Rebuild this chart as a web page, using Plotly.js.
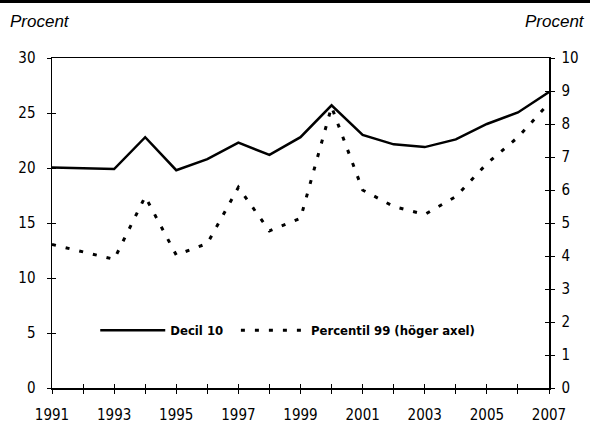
<!DOCTYPE html>
<html><head><meta charset="utf-8">
<script src="https://cdn.plot.ly/plotly-3.0.1.min.js"></script>
<style>html,body{margin:0;padding:0;background:#fff}#chart{width:590px;height:423px}</style>
</head><body><div id="chart"></div>
<script>
var years = [1991,1992,1993,1994,1995,1996,1997,1998,1999,2000,2001,2002,2003,2004,2005,2006,2007];
var decil10 = [20.05,20.0,19.9,22.8,19.8,20.8,22.3,21.2,22.8,25.7,23.0,22.15,21.9,22.6,24.0,25.05,26.9];
var percentil99 = [4.35,4.13,3.9,5.8,4.03,4.38,6.08,4.76,5.14,8.52,6.0,5.5,5.26,5.8,6.8,7.6,8.63];
var nameDecil = 'Decil 10';
var namePerc = 'Percentil 99 (höger axel)';
var axisLabel = 'Procent';

var F = 'DejaVu Sans Condensed, Liberation Sans Narrow, sans-serif';
var traces = [
  {x: years, y: decil10, name: nameDecil, type: 'scatter', mode: 'lines',
   line: {color: '#000', width: 2.5}, xaxis: 'x', yaxis: 'y', legend: 'legend'},
  {x: years, y: percentil99, name: namePerc, type: 'scatter', mode: 'lines',
   line: {color: '#000', width: 3, dash: '4px,10px'}, xaxis: 'x', yaxis: 'y2', legend: 'legend2'},
  {x: [null], y: [null], xaxis: 'x2', yaxis: 'y3', showlegend: false, hoverinfo: 'skip'},
  {x: [null], y: [null], xaxis: 'x2', yaxis: 'y4', showlegend: false, hoverinfo: 'skip'}
];
var axCommon = {showgrid: false, zeroline: false, showline: true, linecolor: '#000', linewidth: 1.5,
  tickcolor: '#000', tickwidth: 1, ticklen: 4, tickfont: {family: F, size: 15, color: '#000'}, fixedrange: true};
var legFont = {family: F, size: 13, color: '#000', weight: 'bold'};
var layout = {
  width: 590, height: 423,
  margin: {l: 52, r: 41, t: 58, b: 35},
  paper_bgcolor: '#fff', plot_bgcolor: '#fff',
  showlegend: true,
  legend: {orientation: 'h', x: 0.087, y: 0.175, xanchor: 'left', yanchor: 'middle', itemwidth: 65,
    font: legFont, bgcolor: 'rgba(0,0,0,0)'},
  legend2: {orientation: 'h', x: 0.370, y: 0.175, xanchor: 'left', yanchor: 'middle', itemwidth: 65,
    font: legFont, bgcolor: 'rgba(0,0,0,0)'},
  xaxis: Object.assign({}, axCommon, {range: [1991, 2007], tick0: 1991, dtick: 2, ticks: 'outside',
    mirror: true, minor: {dtick: 1, tick0: 1991, ticks: 'outside', ticklen: 4, tickcolor: '#000', tickwidth: 1},
    ticklabelstandoff: 8}),
  xaxis2: Object.assign({}, axCommon, {range: [1991, 2007], tick0: 1991, dtick: 1, ticks: 'inside',
    overlaying: 'x', showticklabels: false, anchor: 'y'}),
  yaxis: Object.assign({}, axCommon, {range: [0, 30], dtick: 5, ticks: 'outside', ticklabelstandoff: 8}),
  yaxis2: Object.assign({}, axCommon, {range: [0, 10], dtick: 1, ticks: 'outside', side: 'right',
    overlaying: 'y', anchor: 'x', ticklabelstandoff: 4}),
  yaxis3: Object.assign({}, axCommon, {range: [0, 30], dtick: 5, ticks: 'inside', overlaying: 'y',
    showticklabels: false, anchor: 'x2'}),
  yaxis4: Object.assign({}, axCommon, {range: [0, 10], dtick: 1, ticks: 'inside', side: 'right',
    overlaying: 'y', showticklabels: false, anchor: 'x2'}),
  shapes: [{type: 'rect', xref: 'paper', yref: 'paper', x0: -0.2, x1: 1.2, y0: 1.1667, y1: 1.19,
    fillcolor: '#000', line: {width: 0}}],
  annotations: [
    {text: axisLabel, xref: 'paper', yref: 'paper', x: -0.088, y: 1.112, xanchor: 'left', yanchor: 'middle',
     showarrow: false, font: {family: 'Liberation Sans, Arial, sans-serif', size: 17, style: 'italic', color: '#000'}},
    {text: axisLabel, xref: 'paper', yref: 'paper', x: 1.077, y: 1.112, xanchor: 'right', yanchor: 'middle',
     showarrow: false, font: {family: 'Liberation Sans, Arial, sans-serif', size: 17, style: 'italic', color: '#000'}}
  ]
};
Plotly.newPlot('chart', traces, layout, {displayModeBar: false, staticPlot: true});
</script></body></html>
